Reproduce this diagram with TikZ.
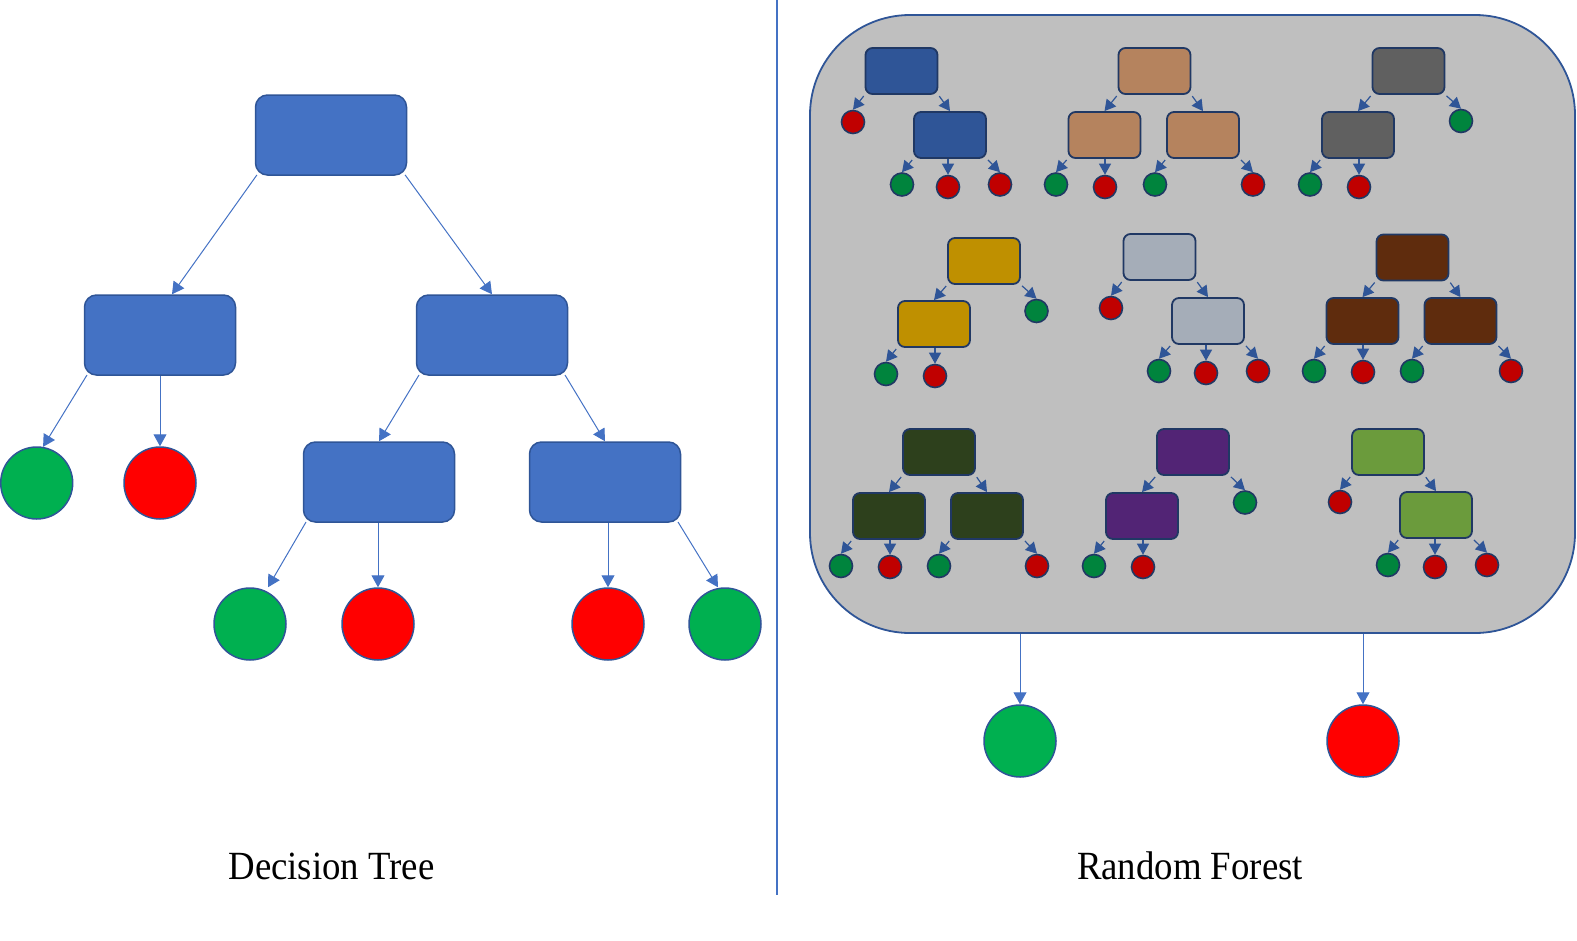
\documentclass[tikz,border=0pt]{standalone}
\usepackage{fontspec}
\setmainfont{Liberation Serif}
\usetikzlibrary{arrows.meta}

\definecolor{dtblue}{HTML}{4472C4}
\definecolor{edgeblue}{HTML}{2F5597}
\definecolor{navy}{HTML}{203864}
\definecolor{bgreen}{HTML}{00B050}
\definecolor{bred}{HTML}{FF0000}
\definecolor{sgreen}{HTML}{00843D}
\definecolor{sred}{HTML}{C00000}
\definecolor{forestgray}{HTML}{BFBFBF}
\definecolor{tcblue}{HTML}{2F5597}
\definecolor{tctan}{HTML}{B5835E}
\definecolor{tcgray}{HTML}{606060}
\definecolor{tcgold}{HTML}{BF9000}
\definecolor{tcsilver}{HTML}{A5ADB8}
\definecolor{tcbrown}{HTML}{5F2C0D}
\definecolor{tcolive}{HTML}{2D401C}
\definecolor{tcpurple}{HTML}{522475}
\definecolor{tclime}{HTML}{6B9B3C}

\tikzset{every picture/.style={line width=1pt}}
\tikzset{
  bigbox/.style={rectangle,rounded corners=12pt,draw=edgeblue,line width=1.5pt,fill=dtblue,
    minimum width=151pt,minimum height=80pt,inner sep=0pt},
  bigleaf/.style={circle,draw=edgeblue,line width=1.5pt,minimum size=72pt,inner sep=0pt},
  smallbox/.style={rectangle,rounded corners=7pt,draw=navy,line width=1.8pt,
    minimum width=72pt,minimum height=46pt,inner sep=0pt},
  smallleaf/.style={circle,draw=navy,line width=1.6pt,minimum size=23pt,inner sep=0pt},
  forestbox/.style={rectangle,rounded corners=100pt,draw=edgeblue,line width=1.8pt,fill=forestgray,
    minimum width=765pt,minimum height=618pt,inner sep=0pt},
  barr/.style={draw=dtblue,line width=1pt,-{Triangle[width=13pt,length=12pt]},shorten <=1.5pt},
  sarr/.style={draw=edgeblue,line width=1.2pt,-{Triangle[width=12pt,length=11pt]},shorten <=1.5pt},
  titletext/.style={font=\fontsize{40}{48}\selectfont,anchor=base,inner sep=0pt}
}

\begin{document}
\begin{tikzpicture}[x=1pt,y=-1pt]
  \useasboundingbox (0,0) rectangle (1577,940);

  % decision tree
  \node [bigbox] (dt) at (331,135) {};
  \node [bigbox] (dtA) at (160,335) {};
  \node [bigbox] (dtB) at (492,335) {};
  \node [bigbox] (dtC) at (379,482) {};
  \node [bigbox] (dtD) at (605,482) {};
  \node [bigleaf,fill=bgreen] (dt1) at (36.7,483) {};
  \node [bigleaf,fill=bred] (dt2) at (160,483) {};
  \node [bigleaf,fill=bgreen] (dt3) at (250,624) {};
  \node [bigleaf,fill=bred] (dt4) at (378,624) {};
  \node [bigleaf,fill=bred] (dt5) at (608,624) {};
  \node [bigleaf,fill=bgreen] (dt6) at (725,624) {};

  \draw [barr] ([xshift=3pt,yshift=2pt]dt.south west) -- ([xshift=12pt]dtA.north);
  \draw [barr] ([xshift=-3pt,yshift=2pt]dt.south east) -- (dtB.north);
  \draw [barr] ([xshift=4pt,yshift=2pt]dtA.south west) -- (dt1.80);
  \draw [barr,shorten <=0pt] (dt2.north |- dtA.south) -- (dt2.north);
  \draw [barr] ([xshift=4pt,yshift=2pt]dtB.south west) -- (dtC.north);
  \draw [barr] ([xshift=-4pt,yshift=2pt]dtB.south east) -- (dtD.north);
  \draw [barr] ([xshift=4pt,yshift=2pt]dtC.south west) -- ([xshift=18pt]dt3.north);
  \draw [barr,shorten <=0pt] (dt4.north |- dtC.south) -- (dt4.north);
  \draw [barr,shorten <=0pt] (dt5.north |- dtD.south) -- (dt5.north);
  \draw [barr] ([xshift=-4pt,yshift=2pt]dtD.south east) -- ([xshift=-7pt]dt6.north);

  \draw [dtblue,line width=1.2pt] (777,0) -- (777,895);

  % random forest
  \node [forestbox] (rf) at (1192.5,324) {};

  % tree 1
  \node [smallbox,fill=tcblue] (f1) at (901.5,71) {};
  \node [smallleaf,fill=sred] (f1p) at (853,122) {};
  \node [smallbox,fill=tcblue] (f1a) at (950,135) {};
  \node [smallleaf,fill=sgreen] (f1q) at (902,184.5) {};
  \node [smallleaf,fill=sred] (f1s) at (948,187) {};
  \node [smallleaf,fill=sred] (f1t) at (1000,184.5) {};
  \draw [sarr] (f1.south west) -- (f1p.north);
  \draw [sarr] (f1.south east) -- (f1a.north);
  \draw [sarr] (f1a.south west) -- (f1q.north);
  \draw [sarr,shorten <=0pt] (f1s.north |- f1a.south) -- (f1s.north);
  \draw [sarr] (f1a.south east) -- (f1t.north);

  % tree 2
  \node [smallbox,fill=tctan] (f2) at (1154.5,71) {};
  \node [smallbox,fill=tctan] (f2a) at (1104.5,135) {};
  \node [smallbox,fill=tctan] (f2b) at (1203,135) {};
  \node [smallleaf,fill=sgreen] (f2p) at (1056,184.5) {};
  \node [smallleaf,fill=sred] (f2q) at (1105,187) {};
  \node [smallleaf,fill=sgreen] (f2s) at (1155,184.5) {};
  \node [smallleaf,fill=sred] (f2t) at (1253,184.5) {};
  \draw [sarr] (f2.south west) -- (f2a.north);
  \draw [sarr] (f2.south east) -- (f2b.north);
  \draw [sarr] (f2a.south west) -- (f2p.north);
  \draw [sarr,shorten <=0pt] (f2q.north |- f2a.south) -- (f2q.north);
  \draw [sarr] (f2b.south west) -- (f2s.north);
  \draw [sarr] (f2b.south east) -- (f2t.north);

  % tree 3
  \node [smallbox,fill=tcgray] (f3) at (1408.5,71) {};
  \node [smallleaf,fill=sgreen] (f3p) at (1461,121) {};
  \node [smallbox,fill=tcgray] (f3a) at (1358,135) {};
  \node [smallleaf,fill=sgreen] (f3q) at (1310,184.5) {};
  \node [smallleaf,fill=sred] (f3s) at (1359,187) {};
  \draw [sarr] (f3.south west) -- (f3a.north);
  \draw [sarr] (f3.south east) -- (f3p.north);
  \draw [sarr] (f3a.south west) -- (f3q.north);
  \draw [sarr,shorten <=0pt] (f3s.north |- f3a.south) -- (f3s.north);

  % tree 4
  \node [smallbox,fill=tcgold] (f4) at (984,261) {};
  \node [smallleaf,fill=sgreen] (f4p) at (1036.5,311) {};
  \node [smallbox,fill=tcgold] (f4a) at (934,324) {};
  \node [smallleaf,fill=sgreen] (f4q) at (886,374) {};
  \node [smallleaf,fill=sred] (f4s) at (935,376) {};
  \draw [sarr] (f4.south west) -- (f4a.north);
  \draw [sarr] (f4.south east) -- (f4p.north);
  \draw [sarr] (f4a.south west) -- (f4q.north);
  \draw [sarr,shorten <=0pt] (f4s.north |- f4a.south) -- (f4s.north);

  % tree 5
  \node [smallbox,fill=tcsilver] (f5) at (1159.5,257) {};
  \node [smallleaf,fill=sred] (f5p) at (1111,308) {};
  \node [smallbox,fill=tcsilver] (f5a) at (1208,321) {};
  \node [smallleaf,fill=sgreen] (f5q) at (1159,371) {};
  \node [smallleaf,fill=sred] (f5s) at (1206,373) {};
  \node [smallleaf,fill=sred] (f5t) at (1258,371) {};
  \draw [sarr] (f5.south west) -- (f5p.north);
  \draw [sarr] (f5.south east) -- (f5a.north);
  \draw [sarr] (f5a.south west) -- (f5q.north);
  \draw [sarr,shorten <=0pt] (f5s.north |- f5a.south) -- (f5s.north);
  \draw [sarr] (f5a.south east) -- (f5t.north);

  % tree 6
  \node [smallbox,fill=tcbrown] (f6) at (1412.5,257.5) {};
  \node [smallbox,fill=tcbrown] (f6a) at (1362.5,321) {};
  \node [smallbox,fill=tcbrown] (f6b) at (1460.5,321) {};
  \node [smallleaf,fill=sgreen] (f6p) at (1314,371) {};
  \node [smallleaf,fill=sred] (f6q) at (1363,372) {};
  \node [smallleaf,fill=sgreen] (f6s) at (1412,371) {};
  \node [smallleaf,fill=sred] (f6t) at (1511,371) {};
  \draw [sarr] (f6.south west) -- (f6a.north);
  \draw [sarr] (f6.south east) -- (f6b.north);
  \draw [sarr] (f6a.south west) -- (f6p.north);
  \draw [sarr,shorten <=0pt] (f6q.north |- f6a.south) -- (f6q.north);
  \draw [sarr] (f6b.south west) -- (f6s.north);
  \draw [sarr] (f6b.south east) -- (f6t.north);

  % tree 7
  \node [smallbox,fill=tcolive] (f7) at (939,452) {};
  \node [smallbox,fill=tcolive] (f7a) at (889,516) {};
  \node [smallbox,fill=tcolive] (f7b) at (987,516) {};
  \node [smallleaf,fill=sgreen] (f7p) at (841,566) {};
  \node [smallleaf,fill=sred] (f7q) at (890,567) {};
  \node [smallleaf,fill=sgreen] (f7s) at (939,566) {};
  \node [smallleaf,fill=sred] (f7t) at (1037,566) {};
  \draw [sarr] (f7.south west) -- (f7a.north);
  \draw [sarr] (f7.south east) -- (f7b.north);
  \draw [sarr] (f7a.south west) -- (f7p.north);
  \draw [sarr,shorten <=0pt] (f7q.north |- f7a.south) -- (f7q.north);
  \draw [sarr] (f7b.south west) -- (f7s.north);
  \draw [sarr] (f7b.south east) -- (f7t.north);

  % tree 8
  \node [smallbox,fill=tcpurple] (f8) at (1193,452) {};
  \node [smallleaf,fill=sgreen] (f8p) at (1245,502.5) {};
  \node [smallbox,fill=tcpurple] (f8a) at (1142,516) {};
  \node [smallleaf,fill=sgreen] (f8q) at (1094,566) {};
  \node [smallleaf,fill=sred] (f8s) at (1143,567) {};
  \draw [sarr] (f8.south west) -- (f8a.north);
  \draw [sarr] (f8.south east) -- (f8p.north);
  \draw [sarr] (f8a.south west) -- (f8q.north);
  \draw [sarr,shorten <=0pt] (f8s.north |- f8a.south) -- (f8s.north);

  % tree 9
  \node [smallbox,fill=tclime] (f9) at (1388,452) {};
  \node [smallleaf,fill=sred] (f9p) at (1340,502) {};
  \node [smallbox,fill=tclime] (f9a) at (1436,515) {};
  \node [smallleaf,fill=sgreen] (f9q) at (1388,565) {};
  \node [smallleaf,fill=sred] (f9s) at (1435,567) {};
  \node [smallleaf,fill=sred] (f9t) at (1487,565) {};
  \draw [sarr] (f9.south west) -- (f9p.north);
  \draw [sarr] (f9.south east) -- (f9a.north);
  \draw [sarr] (f9a.south west) -- (f9q.north);
  \draw [sarr,shorten <=0pt] (f9s.north |- f9a.south) -- (f9s.north);
  \draw [sarr] (f9a.south east) -- (f9t.north);

  % forest output
  \node [bigleaf,fill=bgreen] (rfg) at (1020,741) {};
  \node [bigleaf,fill=bred] (rfr) at (1363,741) {};
  \draw [barr,shorten <=0pt] (rfg.north |- rf.south) -- (rfg.north);
  \draw [barr,shorten <=0pt] (rfr.north |- rf.south) -- (rfr.north);

  \node [titletext] (dtname) at (331.5,879) {\scalebox{0.92}[1]{Decision Tree}};
  \node [titletext] (rfname) at (1190,879) {\scalebox{0.92}[1]{Random Forest}};
\end{tikzpicture}
\end{document}
